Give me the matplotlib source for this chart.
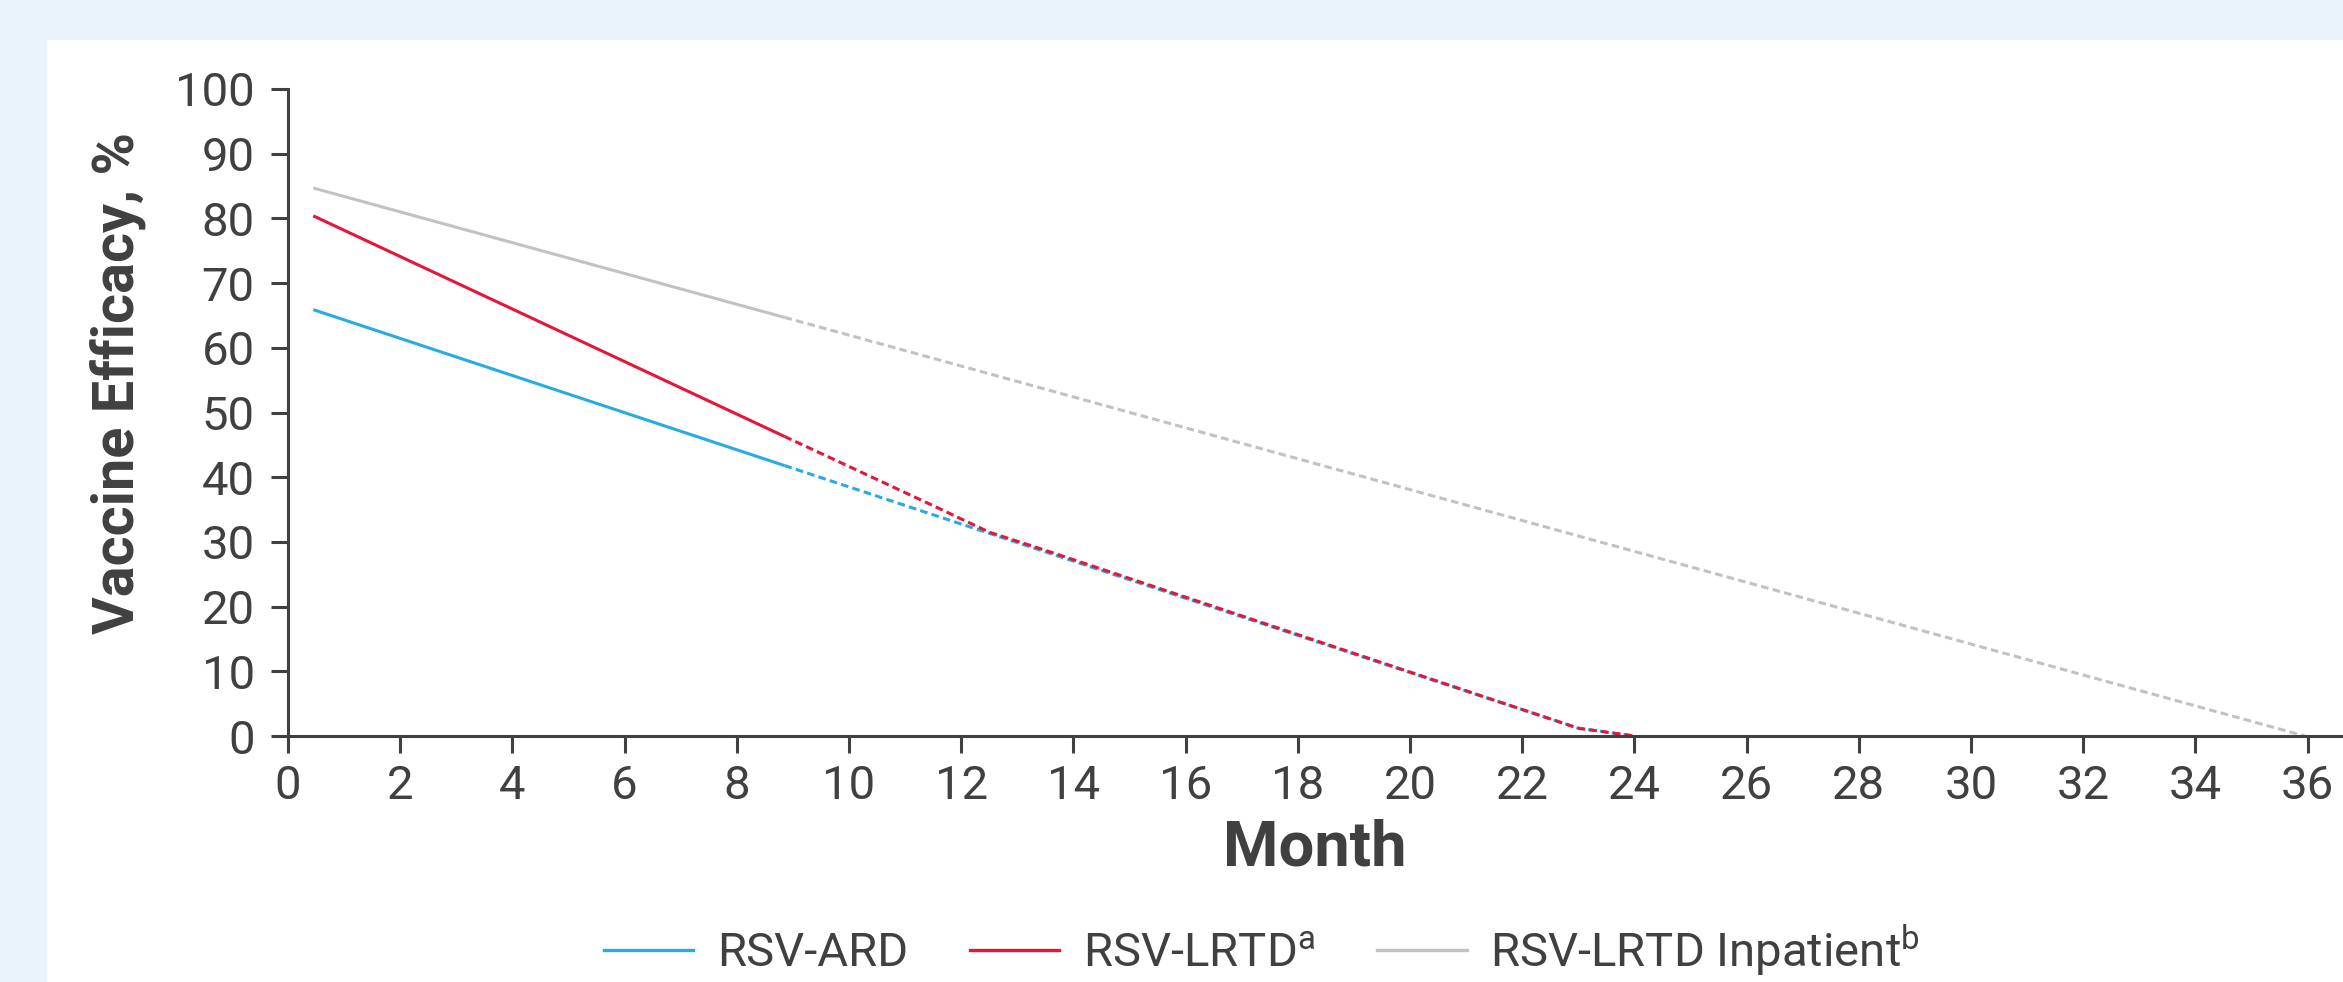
import numpy as np
import matplotlib.pyplot as plt
from matplotlib.patches import Rectangle
from matplotlib.lines import Line2D

plt.rcParams['font.family'] = ['Roboto', 'DejaVu Sans']
plt.rcParams['mathtext.fontset'] = 'custom'
plt.rcParams['mathtext.rm'] = 'Roboto'

ard_solid_x = [0.45, 8.85]
ard_solid_y = [65.9, 41.8]
ard_dash_x = [8.85, 23.0, 24.0]
ard_dash_y = [41.8, 1.2, 0.0]

lrtd_solid_x = [0.45, 8.85]
lrtd_solid_y = [80.4, 46.3]
lrtd_dash_x = [8.85, 11.5, 12.5, 13.5, 23.0, 24.0]
lrtd_dash_y = [46.3, 35.6, 31.5, 28.7, 1.2, 0.0]

inp_solid_x = [0.45, 8.85]
inp_solid_y = [84.7, 64.7]
inp_dash_x = [8.85, 35.95]
inp_dash_y = [64.7, 0.0]

x_ticks = list(range(0, 37, 2))
y_ticks = list(range(0, 101, 10))
labels = ['RSV-ARD', r'RSV-LRTD$^{\mathrm{a}}$', r'RSV-LRTD Inpatient$^{\mathrm{b}}$']

blue = '#29ABE2'
red = '#E4163A'
grey = '#C2C2C2'
txt = '#404040'

W, H = 2343, 982
fig = plt.figure(figsize=(W / 100, H / 100), dpi=100)
fig.patch.set_facecolor('#E8F3FA')
fig.patches.append(Rectangle((47 / W, 0), 1, 1 - 40 / H, transform=fig.transFigure,
                             facecolor='white', edgecolor='none', zorder=-5))

ax = fig.add_axes([288 / W, 1 - 736 / H, 1 - 288 / W, (736 - 89) / H])
ax.set_facecolor('none')
ax.set_zorder(2)

lw = 2.2
dash = (2.5, 1.4)
ax.plot(inp_solid_x, inp_solid_y, color=grey, lw=lw, solid_capstyle='butt')
ax.plot(inp_dash_x, inp_dash_y, color=grey, lw=lw, dashes=dash)
ax.plot(ard_solid_x, ard_solid_y, color=blue, lw=lw, solid_capstyle='butt')
ax.plot(ard_dash_x, ard_dash_y, color=blue, lw=lw, dashes=dash)
ax.plot(lrtd_solid_x, lrtd_solid_y, color=red, lw=lw, solid_capstyle='butt')
ax.plot(lrtd_dash_x, lrtd_dash_y, color=red, lw=lw, dashes=dash)

ax.set_xlim(0, 36.63)
ax.set_ylim(0, 100)
ax.set_xticks(x_ticks)
ax.set_yticks(y_ticks)
for s in ['top', 'right']:
    ax.spines[s].set_visible(False)
for s in ['left', 'bottom']:
    ax.spines[s].set_color(txt)
    ax.spines[s].set_linewidth(2.2)
ax.tick_params(axis='both', colors=txt, labelsize=34, length=12, width=2.2)
ax.tick_params(axis='y', pad=12)
ax.tick_params(axis='x', pad=8)

fig.text(118 / W, 1 - 383 / H, 'Vaccine Efficacy, %', rotation=90, ha='center', va='center',
         fontsize=41.5, fontweight='bold', color=txt)
fig.text(1315 / W, 1 - 865 / H, 'Month', ha='center', va='baseline',
         fontsize=45.5, fontweight='bold', color=txt)

handles = [Line2D([], [], color=c, lw=2.4) for c in (blue, red, grey)]
fig.legend(handles, labels, loc='center', bbox_to_anchor=(1262 / W, 1 - 950 / H), ncol=3,
           frameon=False, fontsize=34, labelcolor=txt, handlelength=1.9,
           handletextpad=0.5, columnspacing=1.3)

fig.savefig('out.png', dpi=100, facecolor=fig.get_facecolor())
